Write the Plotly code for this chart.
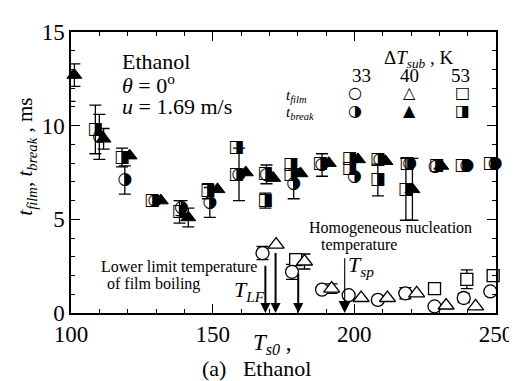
import plotly.graph_objects as go

# ---------------- data ----------------
# t_break (half-filled / filled symbols), Delta T_sub = 33, 40, 53 K
ts_break_33 = [99.5, 110, 119, 129.6, 139, 149, 159.3, 169, 178.6, 188.6, 200, 209, 219.5, 228.5, 239.7, 249.7]
tb_33 = [12.1, 9.4, 7.1, 6.0, 5.6, 5.9, 7.4, 7.4, 6.9, 7.9, 7.3, 8.2, 7.97, 7.8, 7.85, 7.97]
eb_33 = [0.8, 1.2, 0.75, None, 0.4, 0.8, 1.4, 0.5, 0.8, 0.6, None, None, None, None, None, None]

ts_break_40 = [101.2, 111.5, 120.7, 131.7, 141.4, 151.7, 161.7, 171.4, 181, 191, 201.3, 211, 220.5, 230.7]
tb_40 = [12.7, 9.3, 8.4, 6.0, 5.1, 6.6, 7.5, 7.2, 7.45, 8.0, 8.2, 8.1, 6.6, 7.85]
eb_40 = [0.6, 0.55, None, None, 0.5, None, None, None, None, None, None, None, 1.65, None]

ts_break_53 = [99.8, 108.6, 118, 128.6, 138.3, 148.3, 158.3, 158.3, 168.6, 168.6, 177.6, 177.6, 188, 198.3,
               198.3, 208.3, 208.3, 218.6, 218.2, 229, 238, 248]
tb_53 = [12.3, 9.8, 8.3, 6.0, 5.4, 6.5, 8.8, 7.4, 7.45, 6.0, 7.9, 7.4, 7.97, 8.25, 7.7, 8.2, 7.1, 7.97, 6.6,
         7.85, 7.85, 7.97]
eb_53 = [None, 1.3, 0.5, None, 0.6, 0.4, None, None, None, 0.4, None, None, None, None, None, None, 0.85, None,
         1.65, None, None, None]

# t_film (open symbols)
ts_film_33 = [167.6, 178, 188.6, 198, 208.3, 218, 228.3, 238.6, 248]
tf_33 = [3.2, 2.2, 1.25, 0.95, 0.7, 1.05, 0.35, 0.8, 1.15]
ef_33 = [0.35, 0.4, None, None, None, 0.3, None, 0.25, None]

ts_film_40 = [172.4, 182.4, 192, 202.4, 211.7, 222, 232.4, 242.8]
tf_40 = [3.65, 2.75, 1.3, 0.8, 0.8, 1.05, 0.4, 0.35]
ef_40 = [None, 0.4, 0.25, None, None, None, None, None]

ts_film_53 = [179.3, 228.3, 239.7, 249]
tf_53 = [2.85, 1.3, 1.8, 2.0]
ef_53 = [0.3, None, 0.5, None]

# arrows: lower limit temperature of film boiling, homogeneous nucleation temperature
t_lf = [168.6, 172.2, 180.2]
t_lf_top = [2.6, 3.28, 2.19]
t_sp = 196.6
t_sp_top = 3.0

x_ticks = [100, 150, 200, 250]
y_ticks = [0, 5, 10, 15]
sub_labels = ["33", "40", "53"]

SERIF = "Liberation Serif, Times New Roman, Times, serif"
SYM = "DejaVu Sans"

fig = go.Figure()


def err_trace(xs, ys, es):
    px, py, pe = [], [], []
    for a, b, c in zip(xs, ys, es):
        if c is not None:
            px.append(a); py.append(b); pe.append(c)
    fig.add_trace(go.Scatter(
        x=px, y=py, mode="markers", marker=dict(color="rgba(0,0,0,0)", size=1),
        error_y=dict(type="data", array=pe, visible=True, color="black", thickness=1.3, width=6),
        cliponaxis=False, showlegend=False, hoverinfo="skip"))


for xs, ys, es in [(ts_break_53, tb_53, eb_53), (ts_break_33, tb_33, eb_33), (ts_break_40, tb_40, eb_40),
                   (ts_film_53, tf_53, ef_53), (ts_film_33, tf_33, ef_33), (ts_film_40, tf_40, ef_40)]:
    err_trace(xs, ys, es)

# t_break markers
fig.add_trace(go.Scatter(x=ts_break_53, y=tb_53, mode="text", text=["\u25E8"] * len(ts_break_53),
                         textfont=dict(family=SYM, size=17, color="black"), textposition="middle center",
                         cliponaxis=False, showlegend=False))
fig.add_trace(go.Scatter(x=ts_break_33, y=tb_33, mode="text", text=["\u25D1"] * len(ts_break_33),
                         textfont=dict(family=SYM, size=17, color="black"), textposition="middle center",
                         cliponaxis=False, showlegend=False))
fig.add_trace(go.Scatter(x=ts_break_40, y=tb_40, mode="markers",
                         marker=dict(symbol="triangle-up", size=13, color="black", line=dict(color="black", width=1)),
                         cliponaxis=False, showlegend=False))

# t_film markers
fig.add_trace(go.Scatter(x=ts_film_53, y=tf_53, mode="markers",
                         marker=dict(symbol="square", size=12, color="white", line=dict(color="black", width=1.3)),
                         cliponaxis=False, showlegend=False))
fig.add_trace(go.Scatter(x=ts_film_33, y=tf_33, mode="markers",
                         marker=dict(symbol="circle", size=13, color="white", line=dict(color="black", width=1.3)),
                         cliponaxis=False, showlegend=False))
fig.add_trace(go.Scatter(x=ts_film_40, y=tf_40, mode="markers",
                         marker=dict(symbol="triangle-up", size=14, color="white", line=dict(color="black", width=1.3)),
                         cliponaxis=False, showlegend=False))

ann = []


def txt(x, y, s, size, xanchor="left", family=SERIF, ref="data"):
    d = dict(x=x, y=y, text=s, showarrow=False, xanchor=xanchor, yanchor="middle",
             font=dict(family=family, size=size, color="black"))
    if ref == "data":
        d.update(xref="x", yref="y")
    else:
        d.update(xref="paper", yref="paper")
    ann.append(d)


txt(117.2, 13.44, "Ethanol", 22)
txt(117.2, 12.24, "<i>\u03B8</i> = 0<sup>o</sup>", 22)
txt(117.2, 11.04, "<i>u</i> = 1.69 m/s", 22)

txt(222.8, 13.54, "\u0394<i>T</i><sub><i>sub</i></sub> , K", 19, xanchor="center")
for xv, lab in zip([202.4, 219.3, 237.6], sub_labels):
    txt(xv, 12.66, lab, 19, xanchor="center")
for xv, g in zip([200.3, 219.3, 238.3], ["\u25CB", "\u25B3", "\u25A1"]):
    txt(xv, 11.77, g, 16, xanchor="center", family=SYM)
for xv, g in zip([200.3, 219.3, 238.3], ["\u25D1", "\u25B2", "\u25E8"]):
    txt(xv, 10.83, g, 16, xanchor="center", family=SYM)
txt(175.2, 11.6, "<i>t</i><sub><i>film</i></sub>", 15)
txt(175.2, 10.68, "<i>t</i><sub><i>break</i></sub>", 15)

txt(110.0, 2.45, "Lower limit temperature", 16)
txt(112.1, 1.56, "of film boiling", 16)
txt(156.9, 1.15, "<i>T</i><sub><i>LF</i></sub>", 22)
txt(183.4, 4.53, "Homogeneous nucleation", 16)
txt(187.6, 3.65, "temperature", 16)
txt(197.2, 2.5, "<i>T</i><sub><i>sp</i></sub>", 22)

txt(0.423, -0.111, "<i>T</i><sub><i>s0</i></sub> ,", 23, ref="paper")
txt(0.303, -0.196, "(a)\u00a0\u00a0\u00a0Ethanol", 22, ref="paper")
ann.append(dict(x=-0.106, y=0.556, xref="paper", yref="paper", showarrow=False, textangle=-90,
                text="<i>t</i><sub><i>film</i></sub>, <i>t</i><sub><i>break</i></sub> , ms",
                font=dict(family=SERIF, size=21, color="black"), xanchor="center", yanchor="middle"))

for xv, top in zip(t_lf, t_lf_top):
    ann.append(dict(x=xv, y=0.0, ax=xv, ay=top, xref="x", yref="y", axref="x", ayref="y", text="",
                    showarrow=True, arrowhead=2, arrowsize=1, arrowwidth=2, arrowcolor="black",
                    standoff=0, startstandoff=0))
ann.append(dict(x=t_sp, y=0.0, ax=t_sp, ay=t_sp_top, xref="x", yref="y", axref="x", ayref="y", text="",
                showarrow=True, arrowhead=2, arrowsize=2.2, arrowwidth=1.1, arrowcolor="black",
                standoff=0, startstandoff=0))

axis_common = dict(showgrid=False, zeroline=False, showline=True, linecolor="black", linewidth=1.5,
                   mirror="ticks", ticks="inside", tickcolor="black", tickwidth=1.3, ticklen=9,
                   tickfont=dict(family=SERIF, size=23, color="black"))

fig.update_layout(
    width=517, height=381,
    margin=dict(l=63, r=19, t=17, b=76),
    plot_bgcolor="white", paper_bgcolor="white",
    showlegend=False,
    font=dict(family=SERIF, color="black"),
    xaxis=dict(range=[100, 250], tickvals=x_ticks, ticktext=[str(v) for v in x_ticks],
               minor=dict(dtick=10, ticks="inside", ticklen=4, tickcolor="black", tickwidth=1),
               **axis_common),
    yaxis=dict(range=[0, 15], tickvals=y_ticks, ticktext=[str(v) for v in y_ticks],
               minor=dict(dtick=1, ticks="inside", ticklen=4, tickcolor="black", tickwidth=1),
               **axis_common),
    annotations=ann,
)

fig.write_html("out.html")
